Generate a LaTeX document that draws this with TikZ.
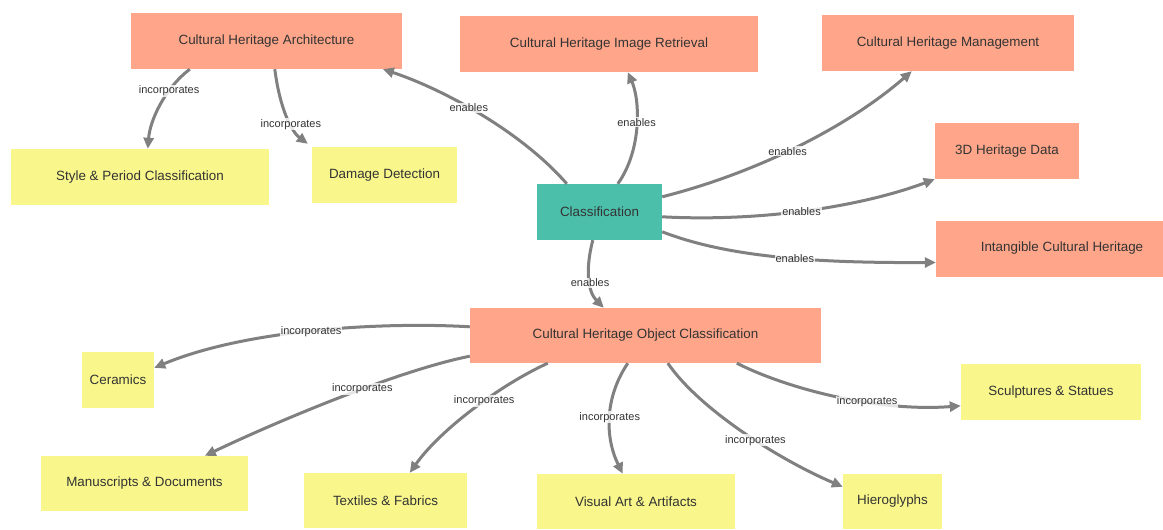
\documentclass[tikz,border=0pt]{standalone}
\usepackage{fontspec}
\setmainfont{Liberation Sans}
\usetikzlibrary{arrows.meta}
\definecolor{salmon}{HTML}{FFA68A}
\definecolor{lemon}{HTML}{F9F78C}
\definecolor{tealbox}{HTML}{4CBFAA}
\definecolor{edgegray}{HTML}{808080}
\definecolor{txt}{HTML}{333333}
\tikzset{
  box/.style={draw=none, inner sep=0pt, text=txt, font=\fontsize{13.4}{15}\selectfont, minimum height=56pt},
  topicbox/.style={box, fill=salmon},
  itembox/.style={box, fill=lemon},
  rootbox/.style={box, fill=tealbox, text=black!80},
  conn/.style={draw=edgegray, line width=3pt, -{Triangle[length=11pt,width=10pt]}},
  lbl/.style={fill=white, fill opacity=0.8, text opacity=1, inner sep=1pt, text=txt, font=\fontsize{11}{12}\selectfont}
}
\begin{document}
\begin{tikzpicture}[x=1pt,y=-1pt]
\useasboundingbox (0,0) rectangle (1163,530);
\fill[white] (0,0) rectangle (1163,530);
% nodes
\node[topicbox, minimum width=271pt] (arch) at (266.5,41) {Cultural Heritage Architecture};
\node[topicbox, minimum width=298pt] (img) at (609,44) {Cultural Heritage Image Retrieval};
\node[topicbox, minimum width=252pt] (mgmt) at (948,43) {Cultural Heritage Management};
\node[topicbox, minimum width=144pt] (threed) at (1007,151) {3D Heritage Data};
\node[topicbox, minimum width=252pt] (intg) at (1062,248.5) {Intangible Cultural Heritage};
\node[rootbox, minimum width=125pt] (cls) at (599.5,212) {Classification};
\node[itembox, minimum width=258pt] (style) at (140,177) {Style \& Period Classification};
\node[itembox, minimum width=145pt] (dmg) at (384.5,175) {Damage Detection};
\node[topicbox, minimum width=351pt, minimum height=55pt] (obj) at (645.5,335.5) {Cultural Heritage Object Classification};
\node[itembox, minimum width=72pt] (cer) at (118,380) {Ceramics};
\node[itembox, minimum width=207pt, minimum height=55pt] (man) at (144.5,483.5) {Manuscripts \& Documents};
\node[itembox, minimum width=163pt, minimum height=55pt] (tex) at (385.5,500.5) {Textiles \& Fabrics};
\node[itembox, minimum width=198pt, minimum height=55pt] (vis) at (636,501.5) {Visual Art \& Artifacts};
\node[itembox, minimum width=99pt, minimum height=55pt] (hie) at (892.5,501.5) {Hieroglyphs};
\node[itembox, minimum width=180pt] (scu) at (1051,392) {Sculptures \& Statues};
% connectors from Classification
\draw[conn] ([xshift=30pt]cls.north west) .. controls (520,130) and (440,88) .. ([xshift=252pt]arch.south west)
  node[lbl, pos=0.55] {enables};
\draw[conn] ([xshift=81pt]cls.north west) .. controls (642,150) and (640,100) .. ([xshift=168pt]img.south west)
  node[lbl, pos=0.53] {enables};
\draw[conn] ([yshift=-13pt]cls.north east) .. controls (760,172) and (850,125) .. ([xshift=90pt]mgmt.south west)
  node[lbl, pos=0.45] {enables};
\draw[conn] ([yshift=-33pt]cls.north east) .. controls (760,222) and (860,207) .. (threed.south west)
  node[lbl, pos=0.48] {enables};
\draw[conn] ([yshift=-48pt]cls.north east) .. controls (730,258) and (820,263) .. ([yshift=-14pt]intg.west)
  node[lbl, pos=0.55] {enables};
\draw[conn] ([xshift=56pt]cls.south west) .. controls (585,270) and (588,292) .. ([xshift=134pt]obj.north west)
  node[lbl, pos=0.55] {enables};
% from Architecture
\draw[conn] ([xshift=59pt]arch.south west) .. controls (165,88) and (150,120) .. ([xshift=137pt]style.north west)
  node[lbl, pos=0.32] {incorporates};
\draw[conn] ([xshift=144pt]arch.south west) .. controls (280,110) and (292,132) .. ([xshift=-4pt,yshift=3pt]dmg.north west)
  node[lbl, pos=0.6] {incorporates};
% from Object Classification
\draw[conn] ([yshift=-19pt]obj.north west) .. controls (390,322) and (250,328) .. ([yshift=-16pt]cer.north east)
  node[lbl, pos=0.52] {incorporates};
\draw[conn] ([yshift=7pt]obj.south west) .. controls (400,370) and (280,420) .. ([xshift=164pt]man.north west)
  node[lbl, pos=0.42] {incorporates};
\draw[conn] ([xshift=78pt]obj.south west) .. controls (500,385) and (440,430) .. ([xshift=106pt]tex.north west)
  node[lbl, pos=0.42] {incorporates};
\draw[conn] ([xshift=158pt]obj.south west) .. controls (603,400) and (606,440) .. ([xshift=86pt]vis.north west)
  node[lbl, pos=0.48] {incorporates};
\draw[conn] ([xshift=198pt]obj.south west) .. controls (700,410) and (780,460) .. ([yshift=-13pt]hie.north west)
  node[lbl, pos=0.56] {incorporates};
\draw[conn] ([xshift=267pt]obj.south west) .. controls (790,390) and (880,412) .. ([yshift=-42pt]scu.north west)
  node[lbl, pos=0.62] {incorporates};
\end{tikzpicture}
\end{document}
